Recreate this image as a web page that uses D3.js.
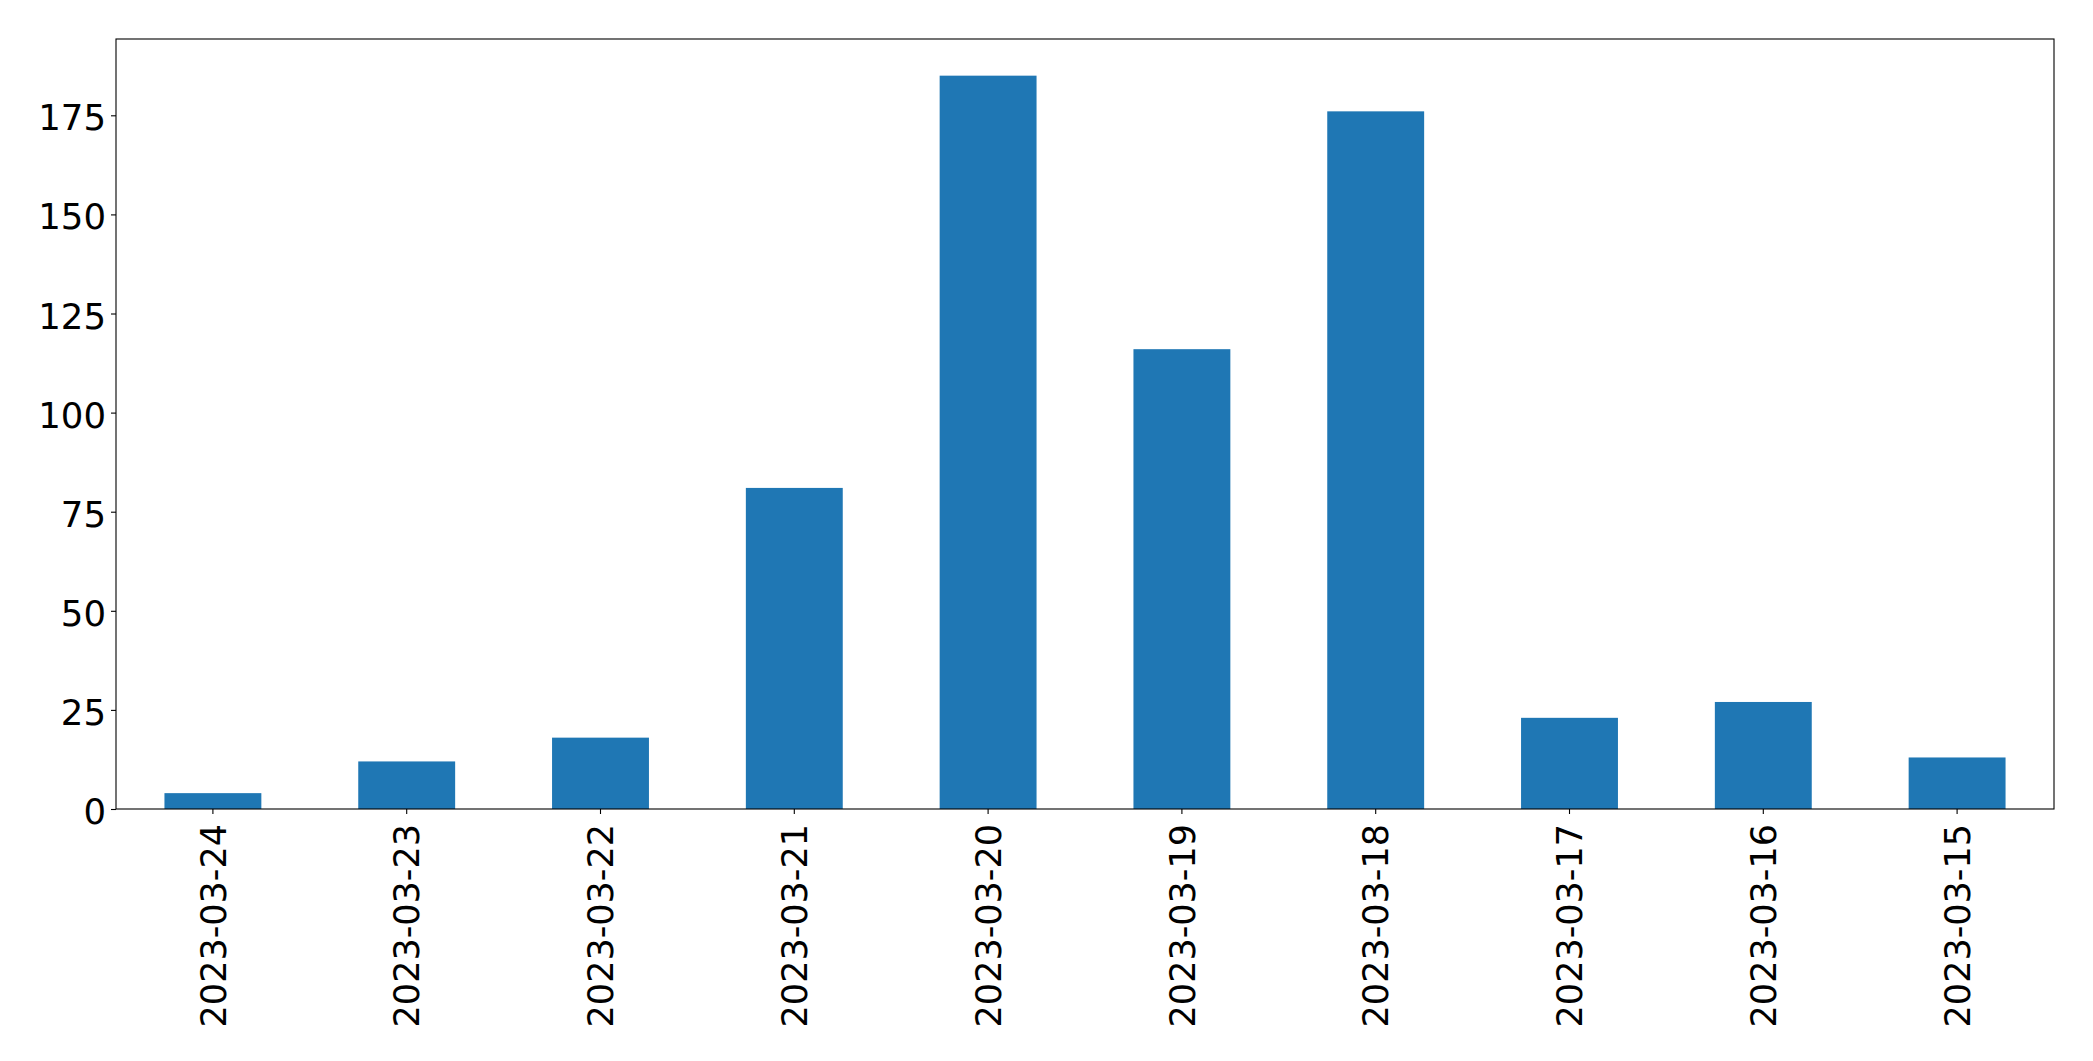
<!DOCTYPE html>
<html>
<head>
<meta charset="utf-8">
<script src="https://cdn.jsdelivr.net/npm/d3@7"></script>
<style>
  html, body { margin: 0; padding: 0; background: #fff; }
  svg { display: block; }
  text { font-family: "DejaVu Sans", sans-serif; fill: #000; }
</style>
</head>
<body>
<svg id="chart" width="2093" height="1061"></svg>
<script>
const categories = ["2023-03-24","2023-03-23","2023-03-22","2023-03-21","2023-03-20","2023-03-19","2023-03-18","2023-03-17","2023-03-16","2023-03-15"];
const values = [4, 12, 18, 81, 185, 116, 176, 23, 27, 13];
const yTicks = [0, 25, 50, 75, 100, 125, 150, 175];

const W = 2093, H = 1061;
const m = { left: 116, right: 2054, top: 39, bottom: 809 };
const svg = d3.select("#chart");

const x = d3.scaleBand().domain(categories).range([m.left, m.right]).paddingInner(0.5).paddingOuter(0.25);
const yMax = d3.max(values) * 1.05;
const y = d3.scaleLinear().domain([0, yMax]).range([m.bottom, m.top]);

// bars
svg.append("g").selectAll("rect").data(values).join("rect")
  .attr("x", (d, i) => x(categories[i]))
  .attr("width", x.bandwidth())
  .attr("y", d => y(d))
  .attr("height", d => y(0) - y(d))
  .attr("fill", "#1f77b4");

// y axis
const yAxis = d3.axisLeft(y).tickValues(yTicks).tickSize(5).tickPadding(5).tickFormat(d3.format("d"));
const gy = svg.append("g").attr("transform", `translate(${m.left},0)`).call(yAxis);
gy.select(".domain").remove();
gy.selectAll(".tick line").attr("stroke", "#000").attr("stroke-width", 1.1);
gy.selectAll(".tick text").attr("font-size", 35.5).attr("font-family", "DejaVu Sans").attr("dy", "0.41em").attr("fill", "#000");

// x axis
const xAxis = d3.axisBottom(x).tickSize(5).tickPadding(0);
const gx = svg.append("g").attr("transform", `translate(0,${m.bottom})`).call(xAxis);
gx.select(".domain").remove();
gx.selectAll(".tick line").attr("stroke", "#000").attr("stroke-width", 1.1);
gx.selectAll(".tick text")
  .attr("font-size", 35).attr("font-family", "DejaVu Sans").attr("fill", "#000")
  .attr("text-anchor", "end")
  .attr("y", null).attr("dy", "0.36em")
  .attr("transform", "translate(0,15) rotate(-90)");

// frame
svg.append("rect")
  .attr("x", m.left).attr("y", m.top)
  .attr("width", m.right - m.left).attr("height", m.bottom - m.top)
  .attr("fill", "none").attr("stroke", "#000").attr("stroke-width", 1.1);
</script>
</body>
</html>
